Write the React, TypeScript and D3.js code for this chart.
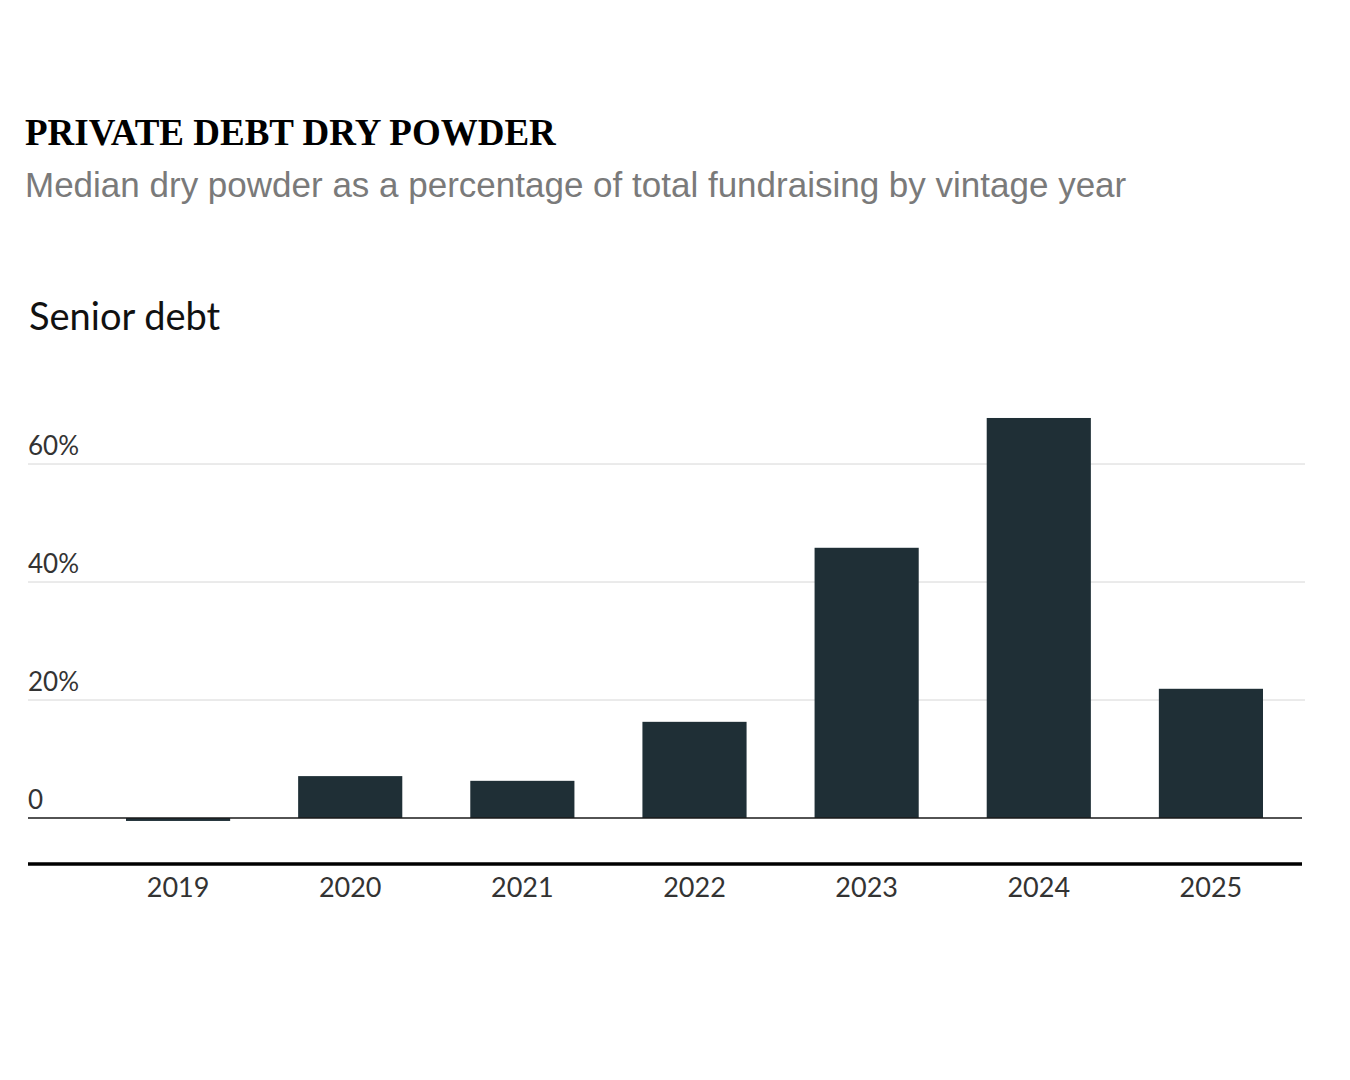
import React from 'react';
import * as d3 from 'd3';

const years = ['2019', '2020', '2021', '2022', '2023', '2024', '2025'];
const values = [-0.5, 7.1, 6.3, 16.3, 45.8, 67.8, 21.9];
const yTicks = [0, 20, 40, 60];

const App: React.FC = () => {
  const width = 1350;
  const height = 1080;

  const x = d3.scaleBand<string>()
    .domain(years)
    .range([92, 1297])
    .paddingInner(0.395)
    .paddingOuter(0.1975);

  const y = d3.scaleLinear()
    .domain([0, 60])
    .range([818, 464]);

  const sans = 'Lato, "Noto Sans", sans-serif';

  return (
    <svg width={width} height={height} style={{ position: 'absolute', left: 0, top: 0, background: '#fff' }}>
      <text x={25} y={145} fontFamily='"Liberation Serif", serif' fontWeight="bold" fontSize={37} fill="#000">
        PRIVATE DEBT DRY POWDER
      </text>
      <text x={25} y={197} fontFamily='"Liberation Sans", Arial, sans-serif' fontSize={35} fill="#7a7a7a">
        Median dry powder as a percentage of total fundraising by vintage year
      </text>
      <text x={29} y={330} fontFamily={sans} fontSize={38} fill="#111">Senior debt</text>

      {yTicks.map(t => (
        <g key={t}>
          {t !== 0 && (
            <line x1={28} x2={1305} y1={y(t)} y2={y(t)} stroke="#d6d6d6" strokeWidth={1} />
          )}
          <text x={28} y={y(t) - 9} fontFamily={sans} fontSize={26} fill="#333">
            {t === 0 ? '0' : `${t}%`}
          </text>
        </g>
      ))}

      {years.map((yr, i) => {
        const v = values[i];
        const top = y(Math.max(0, v));
        const h = Math.abs(y(v) - y(0));
        return (
          <rect key={yr} x={x(yr)} y={top} width={x.bandwidth()} height={Math.max(h, 2)} fill="#1f2f36" />
        );
      })}

      <line x1={28} x2={1302} y1={y(0)} y2={y(0)} stroke="#1a1a1a" strokeWidth={1.5} />
      <line x1={28} x2={1302} y1={864} y2={864} stroke="#000" strokeWidth={3.5} />

      {years.map(yr => (
        <text key={yr} x={(x(yr) ?? 0) + x.bandwidth() / 2} y={897} textAnchor="middle"
          fontFamily={sans} fontSize={27} fill="#333">
          {yr}
        </text>
      ))}
    </svg>
  );
};

export default App;
